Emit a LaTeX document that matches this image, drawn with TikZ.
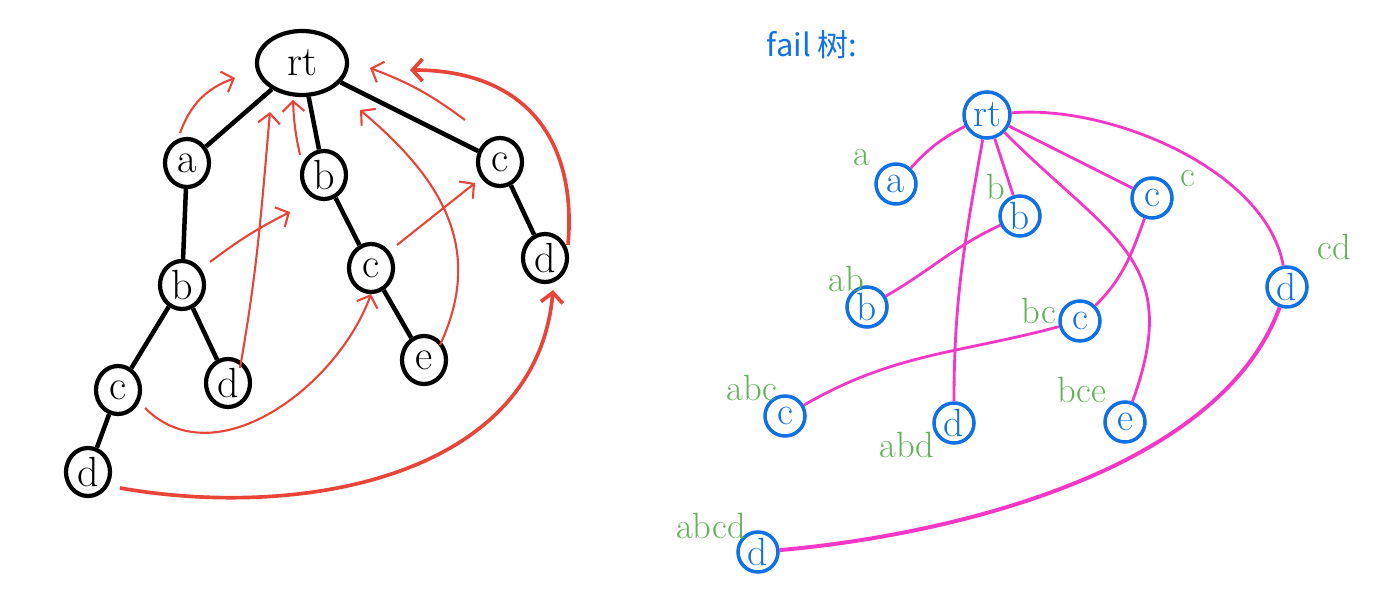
\documentclass[tikz,border=0pt]{standalone}
\usepackage{fontspec}
\newfontfamily\cjk{Noto Sans CJK SC}
\usetikzlibrary{arrows.meta,shapes.geometric}
\definecolor{penred}{RGB}{232,68,56}
\definecolor{penblue}{RGB}{16,112,230}
\definecolor{penpink}{RGB}{245,55,200}
\definecolor{pengreen}{RGB}{98,178,88}

\begin{document}
\begin{tikzpicture}[x=0.025cm, y=0.025cm,
    tnode/.style={draw, ellipse, line width=3pt, minimum width=1.1cm, minimum height=1.2cm, inner sep=0pt, font=\fontsize{30}{34}\selectfont},
    tedge/.style={line width=3.2pt},
    failarrow/.style={penred, line width=1.5pt, -{Straight Barb[length=2.5mm, width=5.5mm]}},
    failthick/.style={failarrow, line width=2.6pt},
    fnode/.style={draw=penblue, text=penblue, circle, line width=2.5pt, minimum size=1cm, inner sep=0pt, font=\fontsize{28}{32}\selectfont},
    fedge/.style={penpink, line width=2pt},
    tag/.style={pengreen, font=\fontsize{26}{30}\selectfont}]
      \useasboundingbox (0,0) rectangle (1396,594);
      \node[tnode, minimum width=2.25cm, minimum height=1.6cm] (rt) at (302,531) {rt};
      \node[tnode] (a) at (187,431) {a};
      \node[tnode] (b) at (324,419) {b};
      \node[tnode] (c) at (500,432) {c};
      \node[tnode] (ab) at (182,309) {b};
      \node[tnode] (bc) at (371,326) {c};
      \node[tnode] (cd) at (545,336) {d};
      \node[tnode] (abc) at (118,204) {c};
      \node[tnode] (abd) at (228,211) {d};
      \node[tnode] (bce) at (424,234) {e};
      \node[tnode] (abcd) at (88,122) {d};
      \draw[tedge] (rt) -- (a);
      \draw[tedge] (rt) -- (b);
      \draw[tedge] (rt) -- (c);
      \draw[tedge] (a) -- (ab);
      \draw[tedge] (ab) -- (abc);
      \draw[tedge] (ab) -- (abd);
      \draw[tedge] (abc) -- (abcd);
      \draw[tedge] (b) -- (bc);
      \draw[tedge] (bc) -- (bce);
      \draw[tedge] (c) -- (cd);
      \draw[failarrow] ([shift={(-7,30)}]a.center) to[bend left=25] ([shift={(-67,-15)}]rt.center);
      \draw[failarrow] ([shift={(-24,20)}]b.center) to[bend left=5] ([shift={(-9,-37)}]rt.center);
      \draw[failarrow] ([shift={(12,15)}]abd.center) to[out=80, in=-95] ([shift={(-32,-49)}]rt.center);
      \draw[failarrow] ([shift={(28,23)}]ab.center) to[bend left=5] ([shift={(-34,-37)}]b.center);
      \draw[failarrow] ([shift={(27,-18)}]abc.center) to[out=-45, in=-110] (bc.south);
      \draw[failarrow] ([shift={(26,23)}]bc.center) -- ([shift={(-25,-21)}]c.center);
      \draw[failarrow] ([shift={(16,15)}]bce.center) to[out=65, in=-40, looseness=1.1] ([shift={(58,-47)}]rt.center);
      \draw[failarrow] ([shift={(-35,42)}]c.center) to[bend right=8] ([shift={(68,-5)}]rt.center);
      \draw[failthick] ([shift={(23,13)}]cd.center) to[out=85, in=0, looseness=1.2] ([shift={(108,-7)}]rt.center);
      \draw[failthick] ([shift={(32,-16)}]abcd.center) to[out=-10, in=-95] ([shift={(8,-6)}]cd.south);

      \node[text=penblue, font=\cjk\fontsize{22}{26}\selectfont] (title) at (812,549) {fail 树:};
      \node[fnode, minimum size=1.15cm] (frt) at (987,479) {rt};
      \node[fnode] (fa) at (896,410) {a};
      \node[fnode] (fb) at (1020,378) {b};
      \node[fnode] (fc) at (1152,396) {c};
      \node[fnode] (fab) at (867,287) {b};
      \node[fnode] (fbc) at (1080,273) {c};
      \node[fnode] (fcd) at (1287,307) {d};
      \node[fnode] (fabc) at (785,178) {c};
      \node[fnode] (fabd) at (954,171) {d};
      \node[fnode] (fbce) at (1125,172) {e};
      \node[fnode] (fabcd) at (758,42) {d};
      \node[tag] (ta) at (862,436) {a};
      \node[tag] (tb) at (996,407) {b};
      \node[tag] (tc) at (1188,415) {c};
      \node[tag] (tab) at (846,315) {ab};
      \node[tag] (tbc) at (1039,283) {bc};
      \node[tag] (tcd) at (1334,347) {cd};
      \node[tag] (tabc) at (752,206) {abc};
      \node[tag] (tabd) at (907,149) {abd};
      \node[tag] (tbce) at (1082,204) {bce};
      \node[tag] (tabcd) at (711,68) {abcd};
      \draw[fedge] (frt) to[bend right=10] (fa);
      \draw[fedge] (frt) -- (fb);
      \draw[fedge] (frt) -- (fc);
      \draw[fedge] (frt) to[out=-100, in=90] (fabd);
      \draw[fedge] (frt) to[out=-45, in=70, looseness=1.3] (fbce);
      \draw[fedge] (frt) to[out=5, in=100, looseness=0.8] (fcd);
      \draw[fedge] (fb) to[out=-155, in=30] (fab);
      \draw[fedge] (fc) to[out=-110, in=45] (fbc);
      \draw[fedge] (fbc) to[out=-165, in=30] (fabc);
      \draw[fedge, line width=2.8pt] (fcd) to[out=-110, in=5, looseness=0.8] (fabcd);
\end{tikzpicture}
\end{document}
